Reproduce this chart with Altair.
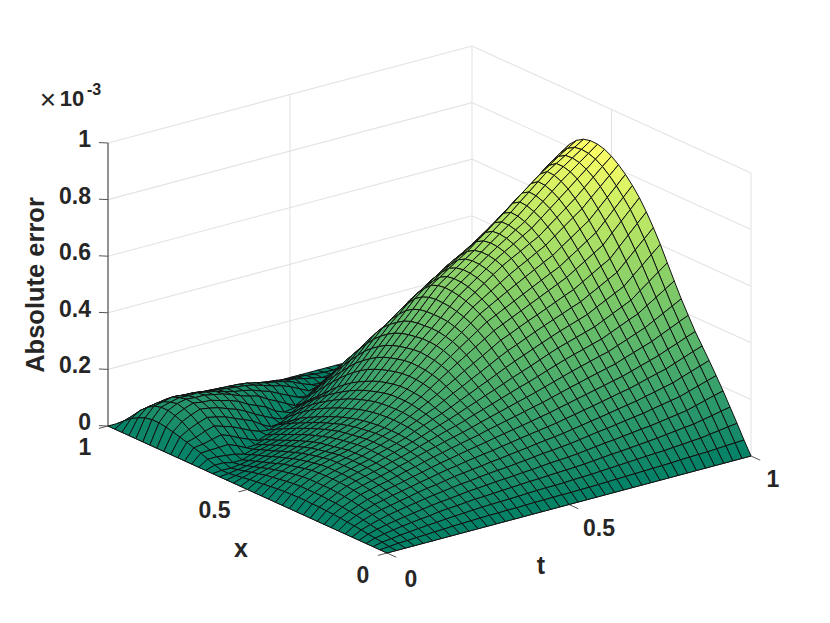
import altair as alt

# Surface heights, in units of 1e-6; rows are t = 0 .. 1, columns are x = 0 .. 1
z_rows = [
[0]*41,
[0,3,7,10,13,17,20,22,25,27,28,30,30,31,31,30,29,27,24,21,18,15,11,7,3,3,10,20,30,38,46,53,60,66,70,70,65,54,40,21,0],
[0,6,11,17,22,27,32,37,40,44,47,48,50,50,50,50,48,45,41,37,33,27,21,14,8,2,10,20,32,42,55,72,88,98,105,105,98,82,60,32,0],
[0,7,15,22,29,36,43,48,53,58,61,64,66,66,66,66,64,60,55,50,44,37,29,21,13,6,2,16,33,50,68,86,103,114,121,114,105,88,66,36,0],
[0,9,18,27,35,44,52,59,65,71,75,78,80,81,81,80,78,73,67,61,55,46,37,29,20,12,3,12,35,58,78,97,115,125,128,122,113,93,70,38,0],
[0,10,21,31,40,50,58,66,73,79,84,88,90,91,91,91,89,84,79,73,66,57,49,40,30,22,13,3,22,46,68,90,110,120,125,120,110,95,72,40,0],
[0,12,24,35,45,56,65,74,81,87,92,96,99,100,100,100,99,94,89,83,76,68,59,50,40,31,22,12,6,30,58,82,103,118,125,122,107,92,70,39,0],
[0,13,26,38,50,61,71,80,88,94,100,104,107,108,109,108,107,102,97,92,86,78,69,60,50,40,30,20,8,17,43,68,91,108,118,116,105,91,68,38,0],
[0,15,29,43,55,67,78,87,95,102,108,112,115,116,117,116,115,110,105,100,95,88,79,70,60,49,38,28,18,3,28,55,80,100,112,110,100,86,66,37,0],
[0,16,31,46,59,72,84,94,103,111,117,122,125,127,128,128,126,122,118,113,107,99,91,82,72,61,50,39,28,14,16,42,65,88,101,100,96,84,65,36,0],
[0,17,33,48,62,76,88,100,110,118,125,130,135,137,138,138,137,133,129,125,120,112,104,95,85,74,63,51,39,26,12,20,46,70,88,92,92,82,63,35,0],
[0,18,35,51,66,81,94,107,118,127,135,140,145,147,149,150,149,146,142,138,132,125,116,107,97,86,74,62,50,36,22,4,30,56,79,87,88,80,61,34,0],
[0,19,37,54,70,85,100,113,125,135,144,150,155,158,160,161,160,158,155,151,145,138,130,120,110,98,86,73,60,42,25,8,15,43,70,80,85,78,60,33,0],
[0,19,38,55,72,88,104,118,131,142,152,160,166,172,176,178,179,178,176,172,167,160,151,142,132,120,108,94,79,62,43,23,3,20,50,68,78,74,57,32,0],
[0,20,39,57,75,92,108,124,138,150,161,170,178,185,190,194,197,197,196,194,190,183,175,166,155,142,128,113,97,79,60,38,16,8,35,58,68,66,52,29,0],
[0,20,40,59,78,96,112,129,144,157,169,180,189,198,205,211,216,218,218,217,212,205,197,188,177,164,149,133,116,97,77,56,33,12,18,42,58,58,47,26,0],
[0,21,41,61,80,99,117,134,150,164,177,189,200,210,219,228,235,238,240,239,235,229,222,212,200,187,172,154,135,113,90,67,45,22,2,27,50,52,42,24,0],
[0,22,43,63,82,101,120,138,156,171,186,199,212,224,236,246,256,262,265,266,264,259,252,244,234,222,207,189,169,146,122,96,70,45,20,12,38,45,38,21,0],
[0,22,44,65,85,105,125,144,163,180,196,211,225,239,253,266,278,285,290,292,293,290,284,277,268,256,240,222,202,177,150,124,97,67,37,7,22,35,31,17,0],
[0,23,45,66,87,108,129,149,169,187,205,221,237,253,269,284,299,309,316,320,322,320,315,309,301,290,275,257,236,210,182,152,123,91,59,28,6,20,26,15,0],
[0,23,45,68,90,112,133,155,175,195,214,232,250,268,286,304,320,332,342,348,350,350,346,342,335,325,310,292,270,243,213,182,150,116,82,48,14,8,18,13,0],
[0,23,46,70,93,116,138,160,181,202,223,243,262,282,302,322,340,354,365,372,377,378,376,374,369,359,343,325,302,272,238,202,165,130,96,64,35,4,12,10,0],
[0,24,48,71,95,118,142,165,187,210,232,254,275,297,319,340,360,376,389,398,405,407,407,406,402,392,376,352,325,290,253,218,180,145,110,78,48,18,5,6,0],
[0,24,49,73,97,122,146,170,194,218,241,265,288,312,336,359,380,398,413,424,432,438,440,441,437,427,410,382,350,315,278,238,195,158,124,93,64,36,8,4,0],
[0,25,50,75,100,125,150,175,200,225,250,275,300,326,352,378,400,420,437,450,460,468,472,474,470,460,436,408,375,338,303,258,210,172,138,108,80,52,25,3,0],
[0,26,52,78,104,130,156,182,208,234,260,286,312,339,365,391,415,436,455,470,482,491,496,497,493,480,455,428,395,360,320,275,225,186,151,120,90,61,33,9,0],
[0,27,54,81,108,135,161,188,215,243,270,298,325,352,379,406,430,452,473,490,505,514,519,520,515,503,478,450,418,380,336,289,240,201,165,132,100,70,41,15,0],
[0,28,56,84,112,140,167,195,223,252,280,309,338,365,393,420,445,468,491,510,528,537,542,543,538,524,498,471,437,399,352,304,255,216,179,144,110,79,49,22,0],
[0,29,58,86,115,144,172,201,230,260,290,320,350,378,406,433,460,484,508,530,550,560,565,565,560,545,520,492,460,415,365,318,270,230,192,155,120,88,57,28,0],
[0,30,60,89,119,149,178,208,238,269,299,330,360,390,419,447,475,500,525,548,568,580,587,589,585,571,540,510,476,434,384,335,285,243,203,165,128,94,61,30,0],
[0,31,62,92,123,154,184,215,245,277,308,339,370,401,431,461,490,516,542,565,585,599,608,612,610,595,563,530,493,450,402,351,300,256,214,174,135,99,65,32,0],
[0,32,64,95,127,159,190,222,253,285,317,349,380,412,444,475,505,532,559,583,603,619,629,635,635,621,586,552,512,470,420,368,315,269,225,183,143,105,69,34,0],
[0,33,65,98,130,163,195,228,260,293,325,358,390,423,456,488,520,547,575,600,620,638,650,658,660,646,610,575,535,490,438,384,330,282,235,192,150,110,72,35,0],
[0,35,68,102,135,170,203,237,270,305,338,372,405,440,474,507,540,569,598,624,645,664,677,686,688,673,637,600,558,514,460,404,348,297,248,202,158,116,76,37,0],
[0,36,70,106,140,176,210,246,280,316,350,386,420,456,491,526,560,590,620,648,670,690,704,713,715,700,662,625,580,538,482,423,365,312,260,212,165,121,79,39,0],
[0,37,73,110,145,182,218,255,290,327,363,400,435,472,509,545,580,612,643,672,695,716,731,741,743,725,687,650,608,562,504,443,383,327,273,222,173,127,83,41,0],
[0,38,75,113,150,188,225,263,300,338,375,413,450,488,526,563,600,633,665,695,720,742,758,768,770,750,712,675,635,585,525,462,400,342,285,232,180,132,86,42,0],
[0,40,80,120,159,198,237,275,313,353,392,434,475,517,557,596,634,666,697,726,749,769,783,790,790,772,735,700,658,609,549,486,423,362,302,245,190,139,90,44,0],
[0,42,84,126,168,208,248,287,325,367,409,454,499,545,588,629,667,699,729,756,778,795,807,812,810,795,766,729,685,632,573,510,445,381,318,257,199,145,94,46,0],
[0,44,89,133,177,218,259,299,338,382,426,475,524,574,619,662,700,732,761,786,807,822,831,834,830,815,788,752,708,655,597,534,468,401,334,270,209,152,98,48,0],
[0,45,93,139,185,228,270,310,350,396,443,495,548,602,650,694,733,765,793,816,835,848,855,856,850,835,810,775,730,678,620,557,490,420,350,282,218,158,102,50,0],
]
z_ticks = [0, 0.2, 0.4, 0.6, 0.8, 1]
z_labels = ["0", "0.2", "0.4", "0.6", "0.8", "1"]
x_ticks = [0, 0.5, 1]
t_ticks = [0, 0.5, 1]
tick_text = ["0", "0.5", "1"]

# Oblique view of the 3-D box: page pixels of the origin and of one unit along each data axis
ORIGIN = (387.0, 553.0)
T_AXIS = (364.0, -97.0)
X_AXIS = (-279.0, -127.0)
Z_AXIS = (0.0, -283.0)
PAGE = 8
TEXT = "#262626"
FONT = "Liberation Sans"


def project(x, t, z):
    """x, t in 0..1, z in units of 1e-3 -> coordinates in the chart."""
    return [ORIGIN[0] + t * T_AXIS[0] + x * X_AXIS[0] - PAGE,
            ORIGIN[1] + t * T_AXIS[1] + x * X_AXIS[1] + z * Z_AXIS[1] - PAGE]


def line(*pts):
    return {"type": "Feature", "properties": {},
            "geometry": {"type": "LineString", "coordinates": [project(*p) for p in pts]}}


def at(x, t, z, dx, dy):
    px, py = project(x, t, z)
    return px + dx, py + dy


identity = dict(type="identity", scale=1, translate=[0, 0])

# walls
grid = []
for z in z_ticks:
    grid.append(line((1, 0, z), (1, 1, z), (0, 1, z)))
for p in [(1, 0.5), (1, 1), (0.5, 1), (0, 1)]:
    grid.append(line((p[0], p[1], 0), (p[0], p[1], 1)))
grid.append(line((0.5, 0, 0), (0.5, 1, 0)))
grid.append(line((1, 0.5, 0), (0, 0.5, 0)))

# dark rulers
rulers = [line((1, 0, 0), (1, 0, 1)), line((1, 0, 0), (0, 0, 0)), line((0, 0, 0), (0, 1, 0))]
ticks = []
for z in z_ticks:
    ticks.append(line((1, 0, z), (1, -0.025, z + 0.01)))
for x in x_ticks:
    ticks.append(line((x, 0, 0), (x, -0.025, 0)))
for t in t_ticks:
    ticks.append(line((0, t, 0), (-0.033, t, 0)))

# surface cells, far to near
n_t, n_x = len(z_rows), len(z_rows[0])
cells = []
for k in range(n_t - 2, -1, -1):
    for j in range(n_x - 2, -1, -1):
        t0, t1 = k / (n_t - 1), (k + 1) / (n_t - 1)
        x0, x1 = j / (n_x - 1), (j + 1) / (n_x - 1)
        a, b, c, d = z_rows[k][j], z_rows[k][j + 1], z_rows[k + 1][j + 1], z_rows[k + 1][j]
        ring = [project(x0, t0, a / 1000), project(x1, t0, b / 1000),
                project(x1, t1, c / 1000), project(x0, t1, d / 1000)]
        ring.append(ring[0])
        cells.append({"type": "Feature", "properties": {"z": (a + b + c + d) / 4},
                      "geometry": {"type": "Polygon", "coordinates": [ring]}})

# text
labels = []
for z, s in zip(z_ticks, z_labels):
    px, py = at(1, 0, z, -17, -3)
    labels.append({"lon": px, "lat": py, "s": s, "align": "right"})
for (x, dx, dy), s in zip([(0, -24, 23), (0.5, -33, 21), (1, -23, 22)], tick_text):
    px, py = at(x, 0, 0, dx, dy)
    labels.append({"lon": px, "lat": py, "s": s, "align": "center"})
for (t, dx, dy), s in zip([(0, 24, 27), (0.5, 30, 24), (1, 22, 24)], tick_text):
    px, py = at(0, t, 0, dx, dy)
    labels.append({"lon": px, "lat": py, "s": s, "align": "center"})


def text_layer(rows, size, weight="bold", angle=0, align="center"):
    return alt.Chart(alt.Data(values=rows)).mark_text(
        font=FONT, fontSize=size, fontWeight=weight, color=TEXT, angle=angle, align=align, baseline="middle"
    ).encode(longitude="lon:Q", latitude="lat:Q", text="s:N").project(**identity)


def lines_layer(feats, color, width):
    return alt.Chart(alt.Data(values=feats)).mark_geoshape(
        filled=False, stroke=color, strokeWidth=width
    ).project(**identity)


label_right = [r for r in labels if r["align"] == "right"]
label_center = [r for r in labels if r["align"] == "center"]

surface = alt.Chart(alt.Data(values=cells)).mark_geoshape(
    stroke="#111111", strokeWidth=1
).encode(
    color=alt.Color("properties.z:Q", legend=None,
                    scale=alt.Scale(domain=[0, 856], range=["#008066", "#ffff66"]))
).project(**identity)

chart = alt.layer(
    lines_layer(grid, "#e3e3e3", 1.1),
    lines_layer(rulers, TEXT, 1),
    lines_layer(ticks, "#555555", 1),
    surface,
    text_layer(label_right, 23, align="right"),
    text_layer(label_center, 23),
    text_layer([{"lon": 241 - PAGE, "lat": 549 - PAGE, "s": "x"}], 25),
    text_layer([{"lon": 541 - PAGE, "lat": 566 - PAGE, "s": "t"}], 25),
    text_layer([{"lon": 36 - PAGE, "lat": 285 - PAGE, "s": "Absolute error"}], 25.5, angle=270),
    text_layer([{"lon": 48 - PAGE, "lat": 101 - PAGE, "s": "\u00d7"}], 28, weight="normal"),
    text_layer([{"lon": 72 - PAGE, "lat": 99 - PAGE, "s": "10"}], 22),
    text_layer([{"lon": 94 - PAGE, "lat": 90 - PAGE, "s": "-3"}], 16),
).properties(
    width=814, height=607, padding=0, autosize="none", background="white"
).configure_view(stroke=None)

chart.save("out.html", embed_options={"renderer": "svg", "actions": False})
